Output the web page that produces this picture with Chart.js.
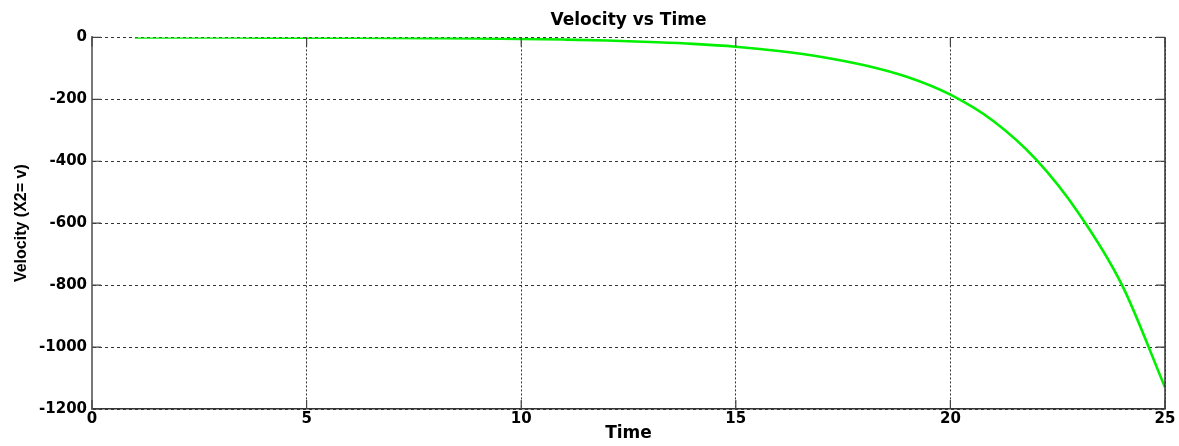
<!DOCTYPE html>
<html>
<head>
<meta charset="utf-8">
<title>Velocity vs Time</title>
<script src="https://cdn.jsdelivr.net/npm/chart.js@4.4.1/dist/chart.umd.min.js"></script>
<style>
    body { margin: 0; background: #fff; }
    #wrap { width: 1179px; height: 446px; }
</style>
</head>
<body>
<div id="wrap"><canvas id="velocity-chart" width="1179" height="446"></canvas></div>
<script>
// Simulated velocity x2 = v against time
const time = [1, 2, 3, 4, 5, 6, 7, 8, 9, 10, 11, 12, 13, 14, 15, 16, 17, 18, 19, 20, 21, 22, 23, 24, 25];
const velocity = [-0.2, -0.3, -0.4, -0.6, -0.8, -1.2, -1.7, -2.5, -3.5, -5, -7, -10, -15, -21, -30,
    -44, -63, -90, -128, -185, -270, -395, -570, -800, -1130];

const xTicks = [0, 5, 10, 15, 20, 25];
const yTicks = [0, -200, -400, -600, -800, -1000, -1200];

const wideFont = "'DejaVu Sans', sans-serif";

// Box on the right side plus short inward tick marks, matlab style
const axesBox = {
    id: 'axesBox',
    afterDraw(chart) {
        const { ctx, chartArea: a, scales: { x, y } } = chart;
        const len = 9;
        ctx.save();
        ctx.strokeStyle = '#333';
        ctx.lineWidth = 1.5;
        ctx.beginPath();
        ctx.moveTo(a.right, a.top);
        ctx.lineTo(a.right, a.bottom);
        ctx.stroke();

        ctx.lineWidth = 1.2;
        ctx.strokeStyle = '#444';
        ctx.beginPath();
        xTicks.forEach(v => {
            const px = x.getPixelForValue(v);
            ctx.moveTo(px, a.bottom);
            ctx.lineTo(px, a.bottom - len);
            ctx.moveTo(px, a.top);
            ctx.lineTo(px, a.top + len);
        });
        yTicks.forEach(v => {
            const py = y.getPixelForValue(v);
            ctx.moveTo(a.left, py);
            ctx.lineTo(a.left + len, py);
            ctx.moveTo(a.right, py);
            ctx.lineTo(a.right - len, py);
        });
        ctx.stroke();
        ctx.restore();
    }
};

new Chart(document.getElementById('velocity-chart').getContext('2d'), {
    type: 'line',
    data: {
        datasets: [{
            label: 'Velocity',
            data: time.map((t, i) => ({ x: t, y: velocity[i] })),
            borderColor: '#00f000',
            borderWidth: 2.6,
            pointRadius: 0,
            fill: false,
            cubicInterpolationMode: 'monotone'
        }]
    },
    options: {
        responsive: false,
        animation: false,
        layout: { padding: { left: 0, right: 14, top: 0, bottom: 0 } },
        plugins: {
            legend: { display: false },
            tooltip: { enabled: false },
            title: {
                display: true,
                text: 'Velocity vs Time',
                fullSize: false,
                color: '#000',
                font: { family: wideFont, size: 17, weight: 'bold' },
                padding: { top: 10, bottom: 7 }
            }
        },
        scales: {
            x: {
                type: 'linear',
                min: 0,
                max: 25,
                afterFit: scale => { scale.height = 37; },
                afterBuildTicks: scale => { scale.ticks = xTicks.map(v => ({ value: v })); },
                ticks: {
                    color: '#000',
                    padding: 1,
                    maxRotation: 0,
                    callback: v => String(v),
                    font: { family: wideFont, size: 15, weight: 'bold' }
                },
                grid: { color: '#333', lineWidth: 1, drawTicks: false },
                border: { color: '#333', width: 1.5, dash: [2, 2] },
                title: {
                    display: true,
                    text: 'Time',
                    color: '#000',
                    font: { family: wideFont, size: 17, weight: 'bold' },
                    padding: { top: 0, bottom: 2 }
                }
            },
            y: {
                type: 'linear',
                min: -1200,
                max: 0,
                afterFit: scale => { scale.width = 92; },
                afterBuildTicks: scale => { scale.ticks = yTicks.map(v => ({ value: v })); },
                ticks: {
                    color: '#000',
                    padding: 5,
                    callback: v => String(v),
                    font: { family: wideFont, size: 15, weight: 'bold' }
                },
                grid: { color: '#333', lineWidth: 1, drawTicks: false },
                border: { color: '#777', width: 2, dash: [3, 3] },
                title: {
                    display: true,
                    text: 'Velocity (X2= v)',
                    color: '#000',
                    font: { family: "'Liberation Sans', Arial, sans-serif", size: 16, weight: 'bold' },
                    padding: { top: 12, bottom: 0 }
                }
            }
        }
    },
    plugins: [axesBox]
});
</script>
</body>
</html>
